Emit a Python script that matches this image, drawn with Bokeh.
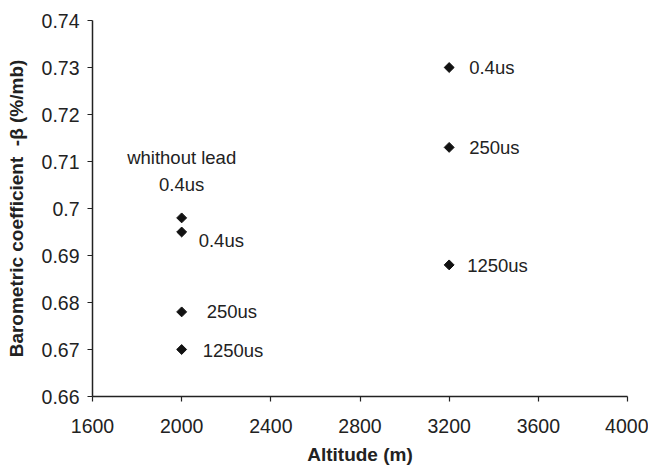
from bokeh.plotting import figure
from bokeh.models import ColumnDataSource, FixedTicker, Range1d
from bokeh.core.properties import value
from bokeh.embed import file_html
from bokeh.resources import INLINE
import numpy as np

# Data
altitude = [2000, 2000, 2000, 2000, 3200, 3200, 3200]
beta = [0.698, 0.695, 0.678, 0.670, 0.730, 0.713, 0.688]
labels = ["whithout lead\n0.4us", "0.4us", "250us", "1250us", "0.4us", "250us", "1250us"]

x_ticks = [1600, 2000, 2400, 2800, 3200, 3600, 4000]
y_ticks = [0.66, 0.67, 0.68, 0.69, 0.70, 0.71, 0.72, 0.73, 0.74]
y_tick_labels = ["0.66", "0.67", "0.68", "0.69", "0.7", "0.71", "0.72", "0.73", "0.74"]

FONT = "Liberation Sans"
TXT = "#222222"

p = figure(width=648, height=468, output_backend="svg", toolbar_location=None,
           x_range=Range1d(1600, 4000), y_range=Range1d(0.66, 0.74),
           min_border_left=92, min_border_right=21, min_border_top=20, min_border_bottom=72)
p.outline_line_color = None
p.xgrid.grid_line_color = None
p.ygrid.grid_line_color = None
p.background_fill_color = "white"
p.border_fill_color = "white"

for ax in (p.xaxis[0], p.yaxis[0]):
    ax.axis_line_color = TXT
    ax.axis_line_width = 1.5
    ax.major_tick_line_color = TXT
    ax.major_tick_line_width = 1.2
    ax.major_tick_in = 0
    ax.major_tick_out = 5
    ax.minor_tick_line_color = None
    ax.major_label_text_font = FONT
    ax.major_label_text_font_size = "19.5px"
    ax.major_label_text_color = TXT
    ax.axis_label_text_font = FONT
    ax.axis_label_text_font_size = "19px"
    ax.axis_label_text_font_style = "bold"
    ax.axis_label_text_color = TXT

p.xaxis.ticker = FixedTicker(ticks=x_ticks)
p.yaxis.ticker = FixedTicker(ticks=y_ticks)
p.yaxis.major_label_overrides = {t: l for t, l in zip(y_ticks, y_tick_labels)}
p.xaxis.axis_label = "Altitude (m)"
p.yaxis.axis_label = "Barometric coefficient \u00a0-\u03b2 (%/mb)"
p.xaxis.major_label_standoff = 17
p.xaxis.axis_label_standoff = 8
p.yaxis.major_label_standoff = 8
p.yaxis.axis_label_standoff = 12

# label offsets (screen pixels)
x_off = [0, 17, 25, 21, 20, 20, 18]
y_off = [-47, 8, 0, 1, 0, 0, 1]
align = ["center", "left", "left", "left", "left", "left", "left"]

src = ColumnDataSource(dict(x=altitude, y=beta, text=labels, xo=x_off, yo=y_off, al=align))

p.scatter("x", "y", source=src, marker="square", angle=np.pi / 4, size=7,
          fill_color="#111111", line_color="#111111")
p.text("x", "y", text="text", source=src, x_offset="xo", y_offset="yo",
       text_align="al", text_baseline="middle", text_font=value(FONT),
       text_font_size="18.5px", text_color=TXT, text_line_height=1.25)

open("out.html", "w").write(file_html(p, INLINE))
